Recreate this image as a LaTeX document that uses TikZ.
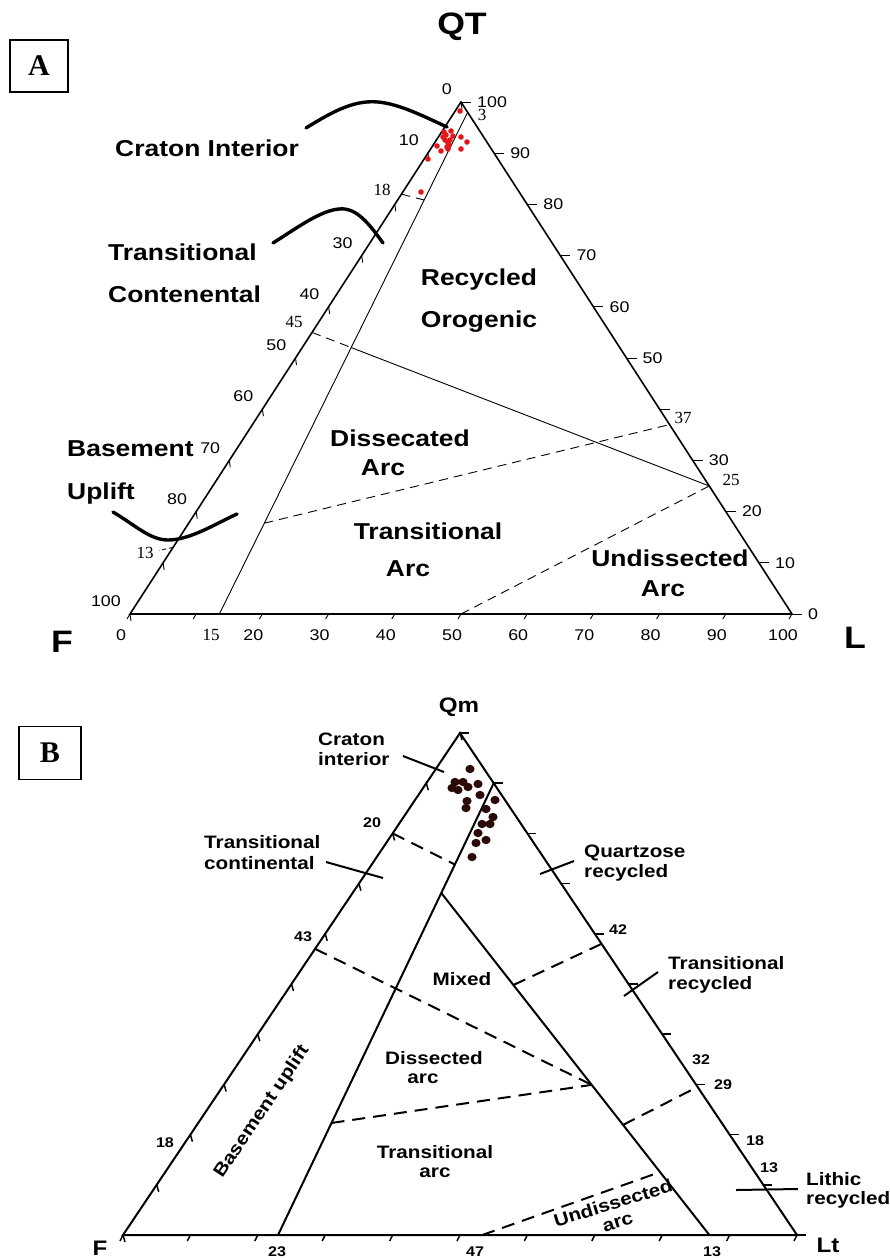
\documentclass[tikz,border=0pt]{standalone}
\usepackage{fontspec}
\usetikzlibrary{calc}
\newfontfamily\labfont[FakeStretch=1.15]{Liberation Sans}
\newfontfamily\serfont{Liberation Serif}
\definecolor{dotred}{HTML}{E3171B}
\definecolor{dotbrown}{HTML}{2B0906}

\begin{document}
\begin{tikzpicture}[x=1pt, y=-1pt,
  side/.style={line width=1.6pt},
  divider/.style={line width=0.9pt},
  dashdiv/.style={line width=0.9pt, dash pattern=on 9pt off 6pt},
  pointer/.style={line width=3.4pt, line cap=round},
  region/.style={font=\labfont\bfseries\fontsize{23}{27}\selectfont, inner sep=0pt},
  axnum/.style={font=\labfont\fontsize{15.5}{18}\selectfont, inner sep=0pt},
  sernum/.style={font=\serfont\fontsize{17}{20}\selectfont, inner sep=0pt},
  corner/.style={font=\labfont\bfseries\fontsize{31}{36}\selectfont, inner sep=0pt},
  panel/.style={draw, line width=1.3pt, inner sep=0pt, font=\serfont\bfseries\fontsize{30}{34}\selectfont},
  bside/.style={line width=2pt},
  btick/.style={line width=1.5pt},
  bdash/.style={line width=2pt, dash pattern=on 13pt off 8pt},
  bregion/.style={font=\labfont\bfseries\fontsize{18}{21}\selectfont, inner sep=0pt},
  bnum/.style={font=\labfont\bfseries\fontsize{14}{16}\selectfont, inner sep=0pt},
  bcorner/.style={font=\labfont\bfseries\fontsize{21}{24}\selectfont, inner sep=0pt},
]
\useasboundingbox (0,0) rectangle (889,1258);

% ---- Diagram A ----
\node[panel, minimum width=58pt, minimum height=52pt] (boxA) at (39,66) {A};
\coordinate (QT) at (461,102);
\coordinate (F) at (130,614);
\coordinate (L) at (792,614);
\draw[side] (QT) -- (F) -- (L) -- cycle;

% ticks on the three sides
\foreach \v in {0,10,...,100} {
  \pgfmathsetmacro\f{\v/100}
  \draw[divider] ($(QT)!\f!(F)$) -- ++(1,7);
  \draw[divider] ($(F)!\f!(L)$) -- ++(-3,5);
  \draw[divider] ($(L)!\f!(QT)$) -- ++(10,0);
}

% axis numbers
\foreach \v in {0,10,30,40,50,60,70,80,100} {
  \pgfmathsetmacro\f{\v/100}
  \node[axnum, anchor=south east] (lA\v) at ($($(QT)!\f!(F)$)+(-9,-7)$) {\v};
}
\foreach \v in {100,90,80,70,60,50,30,20,10,0} {
  \pgfmathsetmacro\f{\v/100}
  \node[axnum, anchor=west] (rA\v) at ($($(L)!\f!(QT)$)+(16,0)$) {\v};
}
\foreach \v in {0,20,30,40,50,60,70,80,90,100} {
  \pgfmathsetmacro\f{\v/100}
  \node[axnum] (bA\v) at ($($(F)!\f!(L)$)+(-9,21)$) {\v};
}
\node[sernum] (lA18) at (382,190) {18};
\node[sernum] (lA45) at (294,322) {45};
\node[sernum] (lA13) at (145,553) {13};
\node[sernum] (rA3) at (482,115) {3};
\node[sernum] (rA37) at (683,418) {37};
\node[sernum] (rA25) at (731,480) {25};
\node[sernum] (bA15) at (211,635) {15};

% field boundaries
\coordinate (a15) at ($(F)!0.135!(L)$);
\coordinate (a3) at ($(L)!0.98!(QT)$);
\coordinate (a18) at ($(QT)!0.18!(F)$);
\coordinate (a45) at ($(QT)!0.45!(F)$);
\coordinate (a25) at ($(L)!0.25!(QT)$);
\coordinate (a37) at ($(L)!0.37!(QT)$);
\coordinate (a50) at ($(F)!0.5!(L)$);
\coordinate (a13) at ($(QT)!0.87!(F)$);
\draw[divider] (a15) -- (a3);
\draw[dashdiv] (a18) -- ($(a15)!0.825!(a3)$);
\draw[dashdiv] (a45) -- (intersection of a45--a25 and a15--a3) coordinate (ax);
\draw[divider] (ax) -- (a25);
\draw[dashdiv] ($(a15)!0.181!(a3)$) -- (a37);
\draw[dashdiv] (a50) -- (a25);
\draw[divider, dash pattern=on 4pt off 3pt] (a13) -- ++(-14,3);

% samples
\foreach \p in {(460,111),(444,132),(451,131),(453,136),(461,137),(467,142),(445,140),
  (448,143),(437,146),(447,147),(441,151),(448,149),(461,149),(428,159),(421,192),
  (443,137),(450,140),(446,135),(449,145)}
  \fill[dotred] \p circle (2.8pt);

% pointers
\coordinate (ciA) at (306,128); \coordinate (ciB) at (447,127);
\coordinate (tcA) at (273,243); \coordinate (tcB) at (383,243);
\coordinate (buA) at (113,512); \coordinate (buB) at (237,514);
\draw[pointer] (ciA) .. controls (335,110) and (355,100) .. (378,102)
  .. controls (400,104) and (425,117) .. (ciB);
\draw[pointer] (tcA) .. controls (300,226) and (325,207) .. (345,209)
  .. controls (360,211) and (372,228) .. (tcB);
\draw[pointer] (buA) .. controls (135,525) and (150,540) .. (168,540)
  .. controls (190,540) and (215,524) .. (buB);

% labels
\node[corner] (QTlab) at (462,27) {QT};
\node[corner] (Flab) at (62,642) {F};
\node[corner] (Llab) at (855,638) {L};
\node[region, anchor=base west] (craton) at (115,156) {Craton Interior};
\node[region, anchor=base west] (trans1) at (108,260) {Transitional};
\node[region, anchor=base west] (trans2) at (108,302) {Contenental};
\node[region, anchor=base west] (base1) at (67,456) {Basement};
\node[region, anchor=base west] (base2) at (67,499) {Uplift};
\node[region, anchor=base] (recy1) at (479,285) {Recycled};
\node[region, anchor=base] (recy2) at (479,327) {Orogenic};
\node[region, anchor=base] (diss1) at (400,446) {Dissecated};
\node[region, anchor=base] (diss2) at (383,475) {Arc};
\node[region, anchor=base] (tarc1) at (428,539) {Transitional};
\node[region, anchor=base] (tarc2) at (408,576) {Arc};
\node[region, anchor=base] (uarc1) at (670,566) {Undissected};
\node[region, anchor=base] (uarc2) at (663,596) {Arc};

% ---- Diagram B ----
\node[panel, minimum width=62pt, minimum height=53pt] (boxB) at (50,753) {B};
\coordinate (Qm) at (460,733);
\coordinate (Fb) at (123,1235);
\coordinate (Lt) at (797,1235);
\draw[bside] (Qm) -- (Fb) -- (Lt) -- cycle;

% ticks on the three sides
\foreach \v in {0,10,...,100} {
  \pgfmathsetmacro\f{\v/100}
  \draw[btick] ($(Qm)!\f!(Fb)$) -- ++(2,7);
  \draw[btick] ($(Fb)!\f!(Lt)$) -- ++(-3,6);
  \draw[btick] ($(Qm)!\f!(Lt)$) -- ++(9,0);
}

% field boundaries
\coordinate (b23) at ($(Fb)!0.23!(Lt)$);
\coordinate (b10) at ($(Qm)!0.1!(Lt)$);
\coordinate (bm) at ($(b23)!0.757!(b10)$);
\coordinate (b13) at ($(Fb)!0.87!(Lt)$);
\coordinate (bx) at ($(bm)!0.561!(b13)$);
\draw[bside] (b23) -- (b10);
\draw[bside] (bm) -- (b13);
\draw[bdash] ($(Qm)!0.2!(Fb)$) -- ($(b23)!0.82!(b10)$);
\draw[bdash] ($(Qm)!0.43!(Fb)$) -- (bx);
\draw[bdash] ($(b23)!0.248!(b10)$) -- (bx);
\draw[bdash] ($(bm)!0.269!(b13)$) -- ($(Qm)!0.42!(Lt)$);
\draw[bdash] ($(bm)!0.678!(b13)$) -- ($(Qm)!0.705!(Lt)$);
\draw[bdash] ($(Fb)!0.533!(Lt)$) -- ($(bm)!0.816!(b13)$);

% samples
\foreach \p in {(470,769),(455,782),(463,782),(458,790),(468,787),(478,784),(480,795),
  (467,801),(466,808),(495,800),(486,809),(493,817),(482,824),(490,824),(478,833),
  (486,840),(476,843),(472,857),(452,788)}
  \fill[dotbrown] \p ellipse [x radius=4.6pt, y radius=4.2pt];

% pointers
\draw[bside] (403,756) -- (444,772);
\draw[bside] (326,862) -- (383,878);
\draw[bside] (540,874) -- (574,861);
\draw[bside] (624,996) -- (658,972);
\draw[bside] (736,1190) -- (798,1189);

% numbers
\node[bnum] (lB20) at (372,823) {20};
\node[bnum] (lB43) at (303,937) {43};
\node[bnum] (lB18) at (165,1143) {18};
\node[bnum] (rB42) at (618,930) {42};
\node[bnum] (rB32) at (701,1060) {32};
\node[bnum] (rB29) at (723,1085) {29};
\node[bnum] (rB18) at (755,1141) {18};
\node[bnum] (rB13) at (769,1168) {13};
\node[bnum] (bB23) at (277,1252) {23};
\node[bnum] (bB47) at (475,1252) {47};
\node[bnum] (bB13) at (712,1252) {13};

% labels
\node[bcorner] (Qmlab) at (459,707) {Qm};
\node[bcorner] (Fblab) at (100,1248) {F};
\node[bcorner] (Ltlab) at (828,1245) {Lt};
\node[bregion, anchor=base west] (ci1) at (318,745.5) {Craton};
\node[bregion, anchor=base west] (ci2) at (318,765.5) {interior};
\node[bregion, anchor=base west] (tc1) at (204,848.5) {Transitional};
\node[bregion, anchor=base west] (tc2) at (204,869) {continental};
\node[bregion, anchor=base west] (qr1) at (584,857.5) {Quartzose};
\node[bregion, anchor=base west] (qr2) at (584,877) {recycled};
\node[bregion, anchor=base west] (tr1) at (668,969.5) {Transitional};
\node[bregion, anchor=base west] (tr2) at (668,989) {recycled};
\node[bregion, anchor=base west] (lr1) at (806,1185.5) {Lithic};
\node[bregion, anchor=base west] (lr2) at (806,1204) {recycled};
\node[bregion, anchor=base] (mixed) at (462,985.5) {Mixed};
\node[bregion, anchor=base] (da1) at (434,1064.5) {Dissected};
\node[bregion, anchor=base] (da2) at (423,1083) {arc};
\node[bregion, anchor=base] (ta1) at (435,1158.5) {Transitional};
\node[bregion, anchor=base] (ta2) at (435,1177) {arc};
\node[bregion, rotate=17] (ua1) at (613,1203) {Undissected};
\node[bregion, rotate=17] (ua2) at (618,1223) {arc};
\node[bregion, rotate=56] (bu) at (262,1112) {Basement uplift};

\end{tikzpicture}
\end{document}
